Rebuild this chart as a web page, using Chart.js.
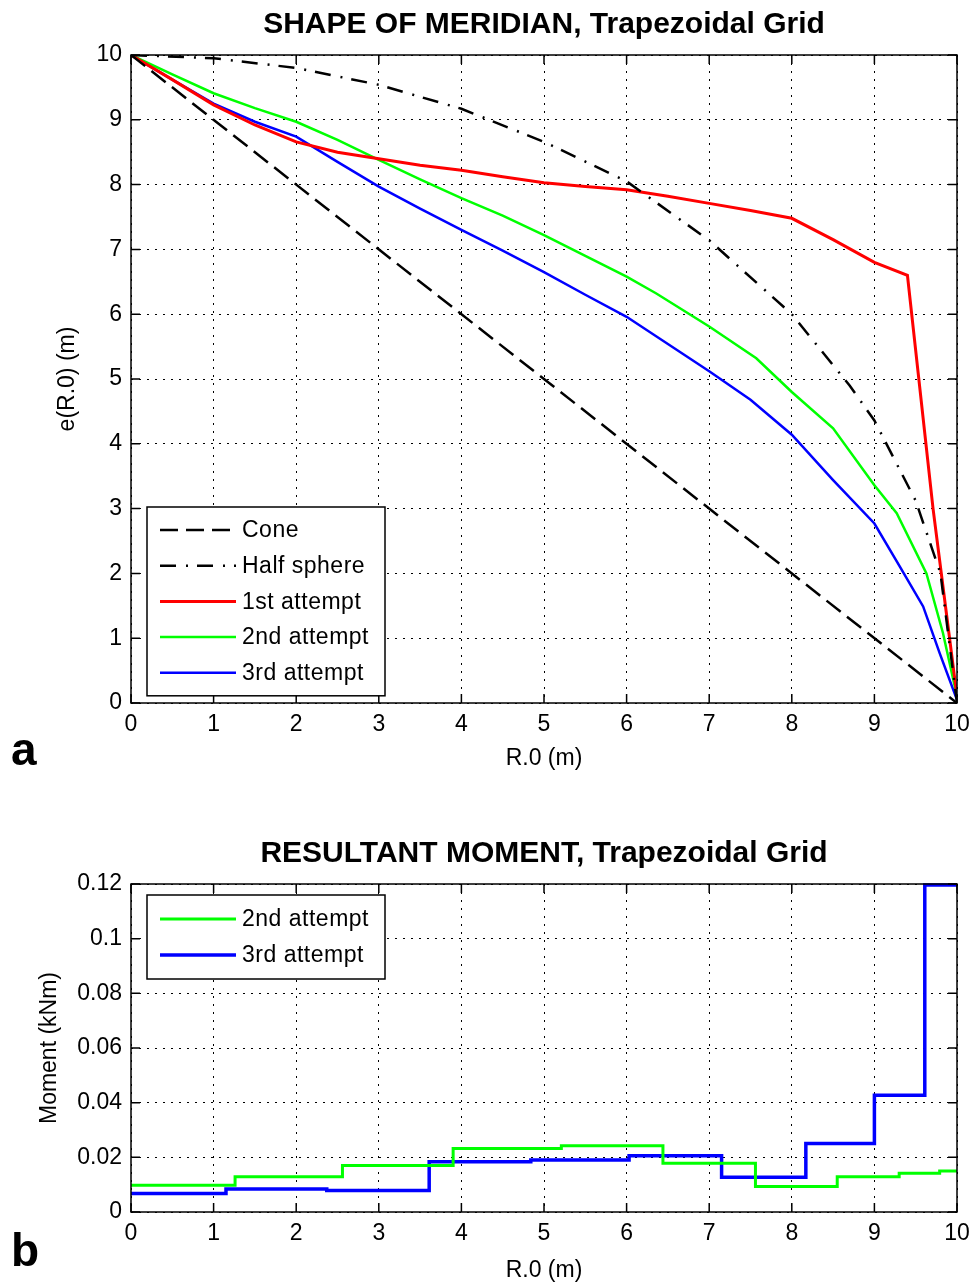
<!DOCTYPE html>
<html>
<head>
<meta charset="utf-8">
<script src="https://cdn.jsdelivr.net/npm/chart.js@4"></script>
<style>
  body { margin: 0; background: #fff; }
  #wrap { position: relative; width: 973px; height: 1285px; }
  canvas { position: absolute; left: 0; }
</style>
</head>
<body>
<div id="wrap">
  <canvas id="shape" width="973" height="790" style="top:0"></canvas>
  <canvas id="moment" width="973" height="495" style="top:790px"></canvas>
</div>
<script>
// ---- panel a: meridian shape, e(R.0) against R.0 ----
const coneX = [0, 10];
const coneY = [10, 0];
const sphereX = [0, 1, 2, 3, 4, 5, 6, 7, 8, 8.7, 9, 9.5, 9.8, 10];
const sphereY = [10, 9.95, 9.8, 9.54, 9.17, 8.66, 8.05, 7.14, 6.0, 4.9, 4.36, 3.12, 2.0, 0];
const firstX = [0, 0.5, 1, 1.5, 2, 2.5, 3, 3.5, 4, 4.5, 5, 5.5, 6, 6.5, 7, 7.5, 8, 8.5, 9, 9.4, 9.53, 9.71, 9.91, 10];
const firstY = [10, 9.62, 9.23, 8.92, 8.66, 8.5, 8.4, 8.3, 8.22, 8.12, 8.03, 7.97, 7.92, 7.82, 7.71, 7.6, 7.48, 7.15, 6.8, 6.6, 5.09, 3, 1, 0.1];
const secondX = [0, 0.5, 1, 1.5, 2, 2.5, 3, 3.5, 4, 4.5, 5, 5.5, 6, 6.36, 7, 7.57, 8, 8.5, 9, 9.27, 9.63, 9.83, 10];
const secondY = [10, 9.7, 9.41, 9.18, 8.97, 8.69, 8.38, 8.08, 7.79, 7.52, 7.22, 6.9, 6.58, 6.32, 5.81, 5.32, 4.8, 4.24, 3.36, 2.93, 2.0, 1.08, 0.1];
const thirdX = [0, 0.5, 1, 1.5, 2, 2.5, 3, 3.5, 4, 4.5, 5, 5.5, 6, 7, 7.5, 8, 8.5, 9, 9.31, 9.59, 9.79, 10];
const thirdY = [10, 9.62, 9.25, 8.97, 8.74, 8.35, 7.97, 7.63, 7.3, 6.98, 6.65, 6.3, 5.96, 5.12, 4.68, 4.14, 3.44, 2.77, 2.1, 1.49, 0.77, 0.05];

// ---- panel b: resultant moment, step levels (each x starts a new level) ----
const stepX2 = [0, 1.26, 2.56, 3.9, 5.21, 6.44, 7.56, 8.55, 9.3, 9.79, 10];
const moment2 = [0.0098, 0.0129, 0.017, 0.0232, 0.0242, 0.0178, 0.0093, 0.0129, 0.0142, 0.015, 0.015];
const stepX3 = [0, 1.15, 2.37, 3.61, 4.84, 6.03, 7.15, 8.17, 9.0, 9.61, 10];
const moment3 = [0.0068, 0.0084, 0.0079, 0.0184, 0.019, 0.0206, 0.0127, 0.0251, 0.0427, 0.1196, 0.1196];

const FONT = '"Liberation Sans", Arial, Helvetica, sans-serif';
Chart.defaults.font.family = FONT;
Chart.defaults.font.size = 23;
Chart.defaults.color = '#000';

function pts(xs, ys) {
  return xs.map((x, i) => ({ x: x, y: ys[i] }));
}

// box, inward ticks, title, panel letter and legend drawn like the matlab figure
function decor(opts) {
  return {
    id: 'decor',
    afterDraw(chart) {
      const ctx = chart.ctx, a = chart.chartArea;
      const xs = chart.scales.x, ys = chart.scales.y;
      ctx.save();
      ctx.strokeStyle = '#000';
      ctx.lineWidth = 1.5;
      ctx.setLineDash([]);
      ctx.beginPath();
      xs.ticks.forEach(t => {
        const p = xs.getPixelForValue(t.value);
        ctx.moveTo(p, a.bottom); ctx.lineTo(p, a.bottom - 9);
        ctx.moveTo(p, a.top); ctx.lineTo(p, a.top + 9);
      });
      ys.ticks.forEach(t => {
        const p = ys.getPixelForValue(t.value);
        ctx.moveTo(a.left, p); ctx.lineTo(a.left + 9, p);
        ctx.moveTo(a.right, p); ctx.lineTo(a.right - 9, p);
      });
      ctx.stroke();
      ctx.strokeRect(a.left, a.top, a.right - a.left, a.bottom - a.top);

      ctx.fillStyle = '#000';
      ctx.font = 'bold 30px ' + FONT;
      ctx.textAlign = 'center';
      ctx.textBaseline = 'alphabetic';
      ctx.fillText(opts.title, (a.left + a.right) / 2, opts.titleY);
      ctx.font = 'bold 46px ' + FONT;
      ctx.textAlign = 'left';
      ctx.fillText(opts.letter, 11, opts.letterY);

      const L = opts.legend;
      const n = chart.data.datasets.length;
      const h = L.pad * 2 + L.dy * (n - 1);
      ctx.fillStyle = '#fff';
      ctx.fillRect(L.x, L.y, L.w, h);
      ctx.strokeRect(L.x, L.y, L.w, h);
      ctx.font = '23px ' + FONT;
      ctx.letterSpacing = '0.5px';
      ctx.textBaseline = 'middle';
      chart.data.datasets.forEach((ds, i) => {
        const y = L.y + L.pad + i * L.dy;
        ctx.strokeStyle = ds.borderColor;
        ctx.lineWidth = ds.borderWidth;
        ctx.setLineDash(ds.borderDash || []);
        ctx.beginPath();
        ctx.moveTo(L.x + 13, y);
        ctx.lineTo(L.x + 89, y);
        ctx.stroke();
        ctx.setLineDash([]);
        ctx.fillStyle = '#000';
        ctx.fillText(ds.label, L.x + 95, y + 1);
      });
      ctx.restore();
    }
  };
}

function axes(o) {
  return {
    x: {
      type: 'linear', min: 0, max: 10,
      ticks: { stepSize: 1, padding: 8, maxRotation: 0 },
      grid: { color: '#000', lineWidth: 1, drawTicks: false },
      border: { display: false, dash: [2, 6] },
      title: { display: true, text: 'R.0 (m)', padding: { top: 0, bottom: o.xTitlePad } },
      afterFit: s => { s.height = o.xHeight; s.paddingLeft = 0; s.paddingRight = 0; }
    },
    y: {
      type: 'linear', min: o.yMin, max: o.yMax,
      ticks: { stepSize: o.yStep, padding: 9, callback: v => String(parseFloat(v.toFixed(2))) },
      grid: { color: '#000', lineWidth: 1, drawTicks: false },
      border: { display: false, dash: [2, 6] },
      title: { display: true, text: o.yTitle, padding: { top: 10, bottom: 0 } },
      afterFit: s => { s.width = o.yWidth; }
    }
  };
}

new Chart(document.getElementById('shape'), {
  type: 'line',
  data: {
    datasets: [
      { label: 'Cone', data: pts(coneX, coneY), borderColor: '#000', borderWidth: 2.5, borderDash: [18, 8] },
      { label: 'Half sphere', data: pts(sphereX, sphereY), borderColor: '#000', borderWidth: 2.5, borderDash: [16, 10, 2, 9] },
      { label: '1st attempt', data: pts(firstX, firstY), borderColor: '#ff0000', borderWidth: 3 },
      { label: '2nd attempt', data: pts(secondX, secondY), borderColor: '#00ff00', borderWidth: 2.5 },
      { label: '3rd attempt', data: pts(thirdX, thirdY), borderColor: '#0000ff', borderWidth: 2.5 }
    ]
  },
  options: {
    responsive: false,
    devicePixelRatio: 1,
    animation: false,
    layout: { padding: { left: 44, right: 16, top: 55, bottom: 0 } },
    elements: { point: { radius: 0 }, line: { tension: 0 } },
    plugins: { legend: { display: false }, tooltip: { enabled: false } },
    scales: axes({ yMin: 0, yMax: 10, yStep: 1, yTitle: 'e(R.0) (m)', yWidth: 87, xHeight: 87, xTitlePad: 18 })
  },
  plugins: [decor({
    title: 'SHAPE OF MERIDIAN, Trapezoidal Grid', titleY: 33, letter: 'a', letterY: 765,
    legend: { x: 147, y: 507, w: 238, pad: 23, dy: 35.7 }
  })]
});

new Chart(document.getElementById('moment'), {
  type: 'line',
  data: {
    datasets: [
      { label: '2nd attempt', data: pts(stepX2, moment2), borderColor: '#00ff00', borderWidth: 3, stepped: 'before', clip: 4 },
      { label: '3rd attempt', data: pts(stepX3, moment3), borderColor: '#0000ff', borderWidth: 3.5, stepped: 'before', clip: 4 }
    ]
  },
  options: {
    responsive: false,
    devicePixelRatio: 1,
    animation: false,
    layout: { padding: { left: 26, right: 16, top: 94, bottom: 0 } },
    elements: { point: { radius: 0 }, line: { tension: 0 } },
    plugins: { legend: { display: false }, tooltip: { enabled: false } },
    scales: axes({ yMin: 0, yMax: 0.12, yStep: 0.02, yTitle: 'Moment (kNm)', yWidth: 105, xHeight: 73, xTitlePad: 1 })
  },
  plugins: [decor({
    title: 'RESULTANT MOMENT, Trapezoidal Grid', titleY: 72, letter: 'b', letterY: 476,
    legend: { x: 147, y: 105, w: 238, pad: 24, dy: 36 }
  })]
});
</script>
</body>
</html>
